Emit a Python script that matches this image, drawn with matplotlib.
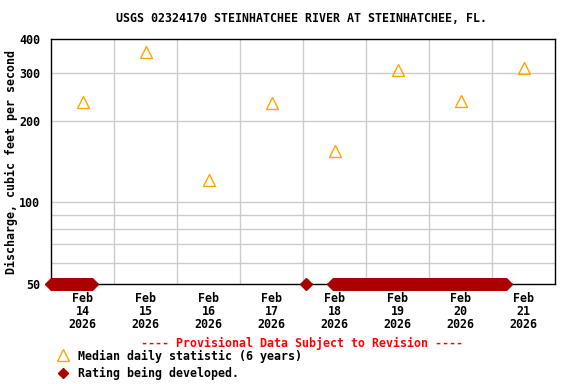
import matplotlib
matplotlib.use("Agg")
import matplotlib.pyplot as plt
from matplotlib.ticker import FixedLocator, NullFormatter, NullLocator
import pandas as pd

# ---- data ----
median_days = ["2026-02-14 12:00", "2026-02-15 12:00", "2026-02-16 12:00", "2026-02-17 12:00",
               "2026-02-18 12:00", "2026-02-19 12:00", "2026-02-20 12:00", "2026-02-21 12:00"]
median_values = [234, 358, 121, 233, 154, 307, 236, 313]

# periods with "Rating being developed" flag (15-minute records at the bottom of the scale)
rating_periods = [("2026-02-14 00:00", "2026-02-14 10:30"),
                  ("2026-02-14 11:15", "2026-02-14 15:30"),
                  ("2026-02-18 01:00", "2026-02-18 01:00"),
                  ("2026-02-18 11:30", "2026-02-21 05:15")]
rating_value = 50

ytick_vals = [50, 100, 200, 300, 400]
ytick_minor = [60, 70, 80, 90]
xtick_days = ["2026-02-14 12:00", "2026-02-15 12:00", "2026-02-16 12:00", "2026-02-17 12:00",
              "2026-02-18 12:00", "2026-02-19 12:00", "2026-02-20 12:00", "2026-02-21 12:00"]
xtick_labels = ["Feb\n14\n2026", "Feb\n15\n2026", "Feb\n16\n2026", "Feb\n17\n2026",
                "Feb\n18\n2026", "Feb\n19\n2026", "Feb\n20\n2026", "Feb\n21\n2026"]
grid_days = ["2026-02-15", "2026-02-16", "2026-02-17", "2026-02-18",
             "2026-02-19", "2026-02-20", "2026-02-21"]
title = "USGS 02324170 STEINHATCHEE RIVER AT STEINHATCHEE, FL."

# ---- figure ----
FONT = "DejaVu Sans Mono"
FS = 8.35
fig = plt.figure(figsize=(5.76, 3.84), dpi=100)
ax = fig.add_axes([51/576, 1-284/384, 504/576, 245/384])
ax.set_yscale("log")
ax.set_ylim(50, 400)
ax.set_xlim(pd.Timestamp("2026-02-14"), pd.Timestamp("2026-02-22"))

# grid
for g in grid_days:
    ax.axvline(pd.Timestamp(g), color="#cccccc", lw=1, zorder=0)
for v in ytick_vals[1:-1] + ytick_minor:
    ax.axhline(v, color="#cccccc", lw=1, zorder=0)

# rating flagged points
for s, e in rating_periods:
    t = pd.date_range(s, e, freq="15min")
    ax.plot(t, [rating_value]*len(t), linestyle="none", marker="D", ms=6.5,
            color="#aa0000", mec="#aa0000", clip_on=False, zorder=3)

# median
ax.plot(pd.to_datetime(median_days), median_values, linestyle="none", marker="^",
        ms=8, mfc="none", mec="#ffa500", mew=1, zorder=4)

ax.yaxis.set_major_locator(FixedLocator(ytick_vals))
ax.yaxis.set_minor_locator(NullLocator())
ax.yaxis.set_minor_formatter(NullFormatter())
ax.set_yticklabels([str(v) for v in ytick_vals], fontfamily=FONT, fontweight="bold", fontsize=FS)
ax.set_xticks(pd.to_datetime(xtick_days))
ax.set_xticklabels(xtick_labels, fontfamily=FONT, fontweight="bold", fontsize=FS, linespacing=1.0)
ax.tick_params(axis="both", length=0)
ax.tick_params(axis="y", pad=8)
ax.tick_params(axis="x", pad=6)
for sp in ax.spines.values():
    sp.set_linewidth(1)
    sp.set_color("black")

ax.set_ylabel("Discharge, cubic feet per second", fontfamily=FONT, fontweight="bold",
              fontsize=FS)
ax.yaxis.set_label_coords(-0.066, 0.5)

fig.text(302/576, 1-19/384, title, ha="center", va="center", fontfamily=FONT,
         fontweight="bold", fontsize=FS)
fig.text(302/576, 1-343/384, "---- Provisional Data Subject to Revision ----", ha="center",
         va="center", fontfamily=FONT, fontweight="bold", fontsize=FS, color="red")

# legend
fig.lines.append(plt.Line2D([63/576], [1-355/384], transform=fig.transFigure, marker="^",
                            ms=8, mfc="none", mec="#ffa500", linestyle="none"))
fig.text(78/576, 1-356/384, "Median daily statistic (6 years)", ha="left", va="center",
         fontfamily=FONT, fontweight="bold", fontsize=FS)
fig.lines.append(plt.Line2D([63/576], [1-373/384], transform=fig.transFigure, marker="D",
                            ms=5.5, color="#aa0000", linestyle="none"))
fig.text(78/576, 1-373/384, "Rating being developed.", ha="left", va="center",
         fontfamily=FONT, fontweight="bold", fontsize=FS)

fig.savefig("out.png", dpi=100)
